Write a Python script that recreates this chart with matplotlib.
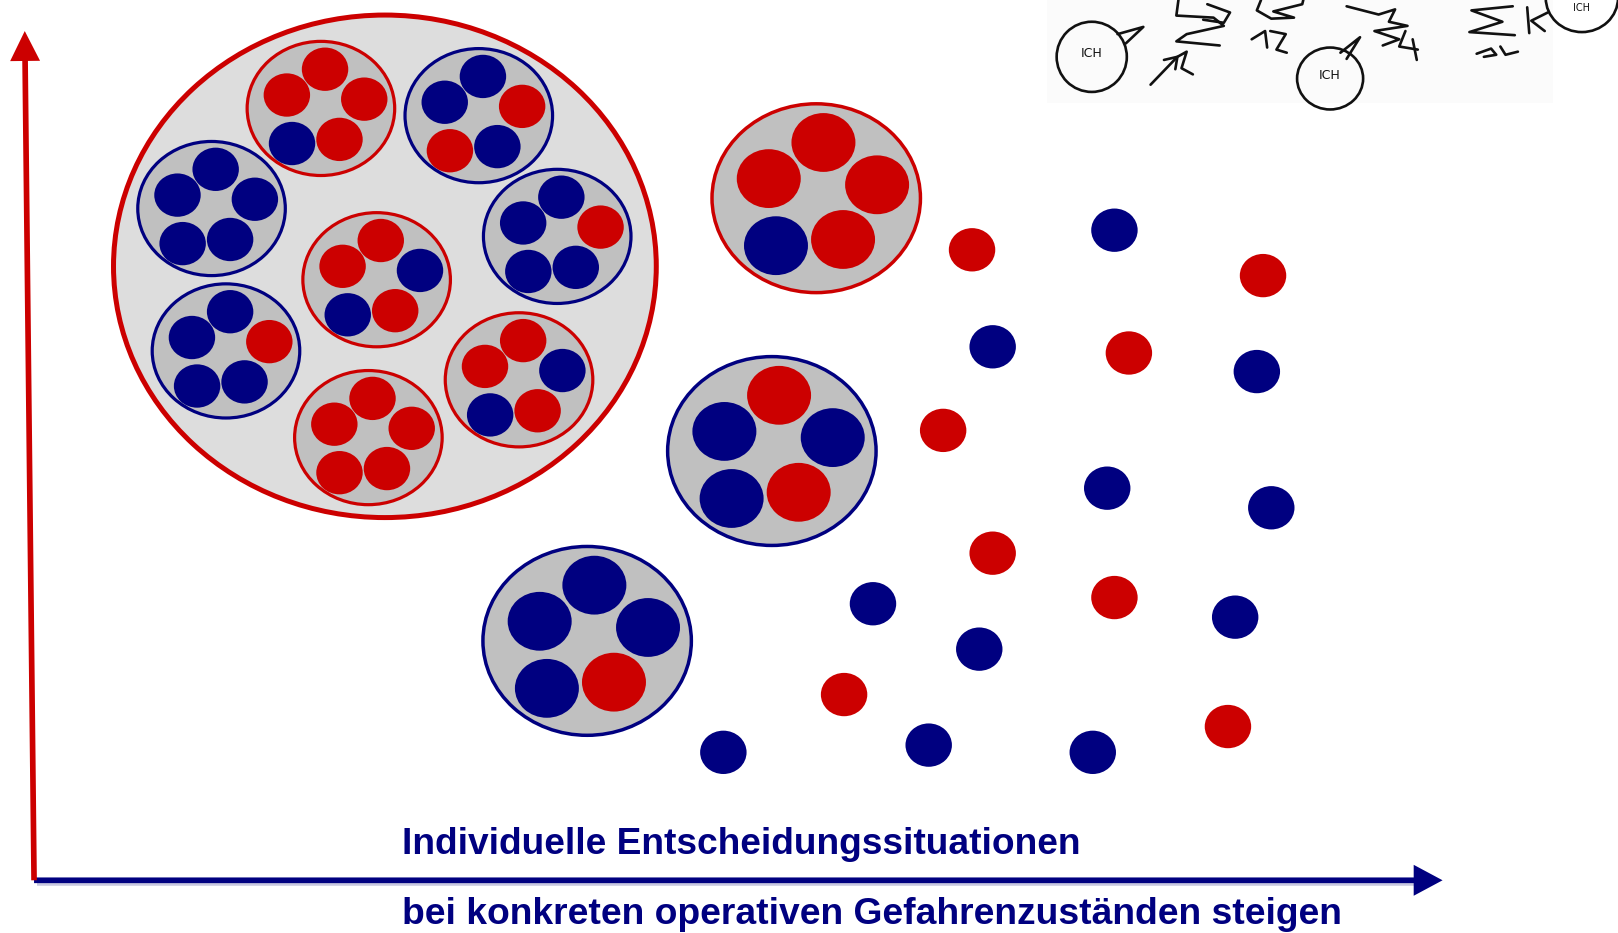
import matplotlib
matplotlib.use("Agg")
import matplotlib.pyplot as plt
from matplotlib.patches import Ellipse, FancyArrow, Rectangle
from matplotlib import font_manager

RED = "#CC0000"
BLUE = "#000080"
COL = {"R": RED, "B": BLUE}

# canvas units (picture coordinates, y grows downwards)
W, H = 1568, 904

# big circle
big_center = (373, 258)
big_size = (526, 487)

# clusters inside the big circle: centre, ring colour, dot colours (top, left, right, bottom-left, bottom-right)
inner_centers = [(311, 105), (464, 112), (205, 202), (365, 271),
                 (540, 229), (219, 340), (503, 368), (357, 424)]
inner_rings = ["R", "B", "B", "R", "B", "B", "R", "R"]
inner_dots = ["RRRBR", "BBRRB", "BBBBB", "RRBBR", "BBRBB", "BBRBB", "RRBBR", "RRRRR"]
inner_offsets = [(4, -38), (-33, -13), (42, -9), (-28, 34), (18, 30)]

# free clusters
outer_centers = [(791, 192), (748, 437), (569, 621)]
outer_rings = ["R", "B", "B"]
outer_dots = ["RRRBR", "RBBBR", "BBBBR"]
outer_offsets = [(7, -54), (-46, -19), (59, -13), (-39, 46), (26, 40)]

# single dots
red_dots = [(942, 242), (1224, 267), (1094, 342), (914, 417),
            (962, 536), (1080, 579), (818, 673), (1190, 704)]
blue_dots = [(1080, 223), (962, 336), (1218, 360), (1073, 473), (1232, 492),
             (846, 585), (949, 629), (900, 722), (1059, 729), (1197, 598), (701, 729)]

label_top = "Individuelle Entscheidungssituationen"
label_bottom = "bei konkreten operativen Gefahrenzuständen steigen"

# hand sketch at the top right
sketch_circles = [(1058, 55, 68, 68), (1289, 76, 64, 60), (1533, -2, 70, 66)]
sketch_texts = [(1058, 52, "ICH", 9), (1289, 73, "ICH", 9), (1533, 8, "ICH", 7)]
sketch_strokes = [
    [(1083, 33), (1108, 26), (1091, 42)],
    [(1299, 51), (1318, 36), (1305, 57)],
    [(1500, 12), (1484, 20), (1497, 30)],
    [(1115, 82), (1140, 56)],
    [(1128, 58), (1141, 55), (1139, 67)],
    [(1141, 55), (1150, 50), (1145, 66), (1156, 72)],
    [(1142, 0), (1140, 15), (1176, 17), (1186, 25), (1150, 33), (1140, 40), (1182, 44)],
    [(1170, 4), (1192, 12), (1186, 22), (1166, 19)],
    [(1222, 0), (1218, 10), (1232, 18), (1254, 17), (1234, 11), (1262, 4), (1263, 0)],
    [(1213, 38), (1226, 30), (1228, 46)],
    [(1231, 30), (1246, 33), (1237, 48), (1247, 51)],
    [(1305, 6), (1336, 14), (1352, 9), (1346, 21), (1364, 25), (1332, 30), (1356, 38), (1340, 44)],
    [(1362, 30), (1356, 45), (1374, 48)],
    [(1369, 38), (1373, 58)],
    [(1466, 6), (1426, 10), (1456, 21), (1424, 31), (1468, 34)],
    [(1480, 7), (1482, 32)],
    [(1431, 52), (1445, 47), (1450, 53), (1438, 55)],
    [(1454, 45), (1459, 53), (1471, 50)],
]

fig = plt.figure(figsize=(16.18, 9.33), dpi=100)
ax = fig.add_axes([0, 0, 1, 1])
ax.set_xlim(0, W)
ax.set_ylim(H, 0)
ax.set_aspect("equal")
ax.axis("off")

# faint background of the scanned sketch
ax.add_patch(Rectangle((1015, 0), 490, 100, facecolor="#FBFBFB", edgecolor="none", zorder=0))

ax.add_patch(Ellipse(big_center, *big_size, facecolor="#DDDDDD", edgecolor=RED, lw=3.6, zorder=1))


def draw_cluster(center, ring, dots, offsets, ring_size, dot_size, lw):
    ax.add_patch(Ellipse(center, *ring_size, facecolor="#C0C0C0", edgecolor=COL[ring], lw=lw, zorder=2))
    for (dx, dy), c in zip(offsets, dots):
        ax.add_patch(Ellipse((center[0] + dx, center[1] + dy), *dot_size,
                             facecolor=COL[c], edgecolor="none", zorder=3))


for c, r, d in zip(inner_centers, inner_rings, inner_dots):
    draw_cluster(c, r, d, inner_offsets, (143, 130), (45, 42), 2.3)
for c, r, d in zip(outer_centers, outer_rings, outer_dots):
    draw_cluster(c, r, d, outer_offsets, (202, 183), (62, 57), 2.5)

for p in red_dots:
    ax.add_patch(Ellipse(p, 45, 42, facecolor=RED, edgecolor="none", zorder=3))
for p in blue_dots:
    ax.add_patch(Ellipse(p, 45, 42, facecolor=BLUE, edgecolor="none", zorder=3))

# axes arrows
ax.plot([36, 1372], [856, 856], color="#C8C8E0", lw=4, solid_capstyle="butt", zorder=3)
ax.add_patch(FancyArrow(33, 853, 1365, 0, width=5.5, head_width=30, head_length=28,
                        length_includes_head=True, color=BLUE, lw=0, zorder=4))
ax.add_patch(FancyArrow(33, 853, -9, -823, width=5.5, head_width=29, head_length=29,
                        length_includes_head=True, color=RED, lw=0, zorder=4))

# sketch
for cx, cy, w, h in sketch_circles:
    ax.add_patch(Ellipse((cx, cy), w, h, facecolor="none", edgecolor="#111111", lw=1.9, zorder=2))
for x, y, s, fs in sketch_texts:
    ax.text(x, y, s, fontsize=fs, ha="center", va="center", color="#111111", zorder=2)
for stroke in sketch_strokes:
    xs, ys = zip(*stroke)
    ax.plot(xs, ys, color="#111111", lw=1.9, solid_capstyle="round", solid_joinstyle="round", zorder=2)

# labels, sized to the width they take in the picture
names = {f.name for f in font_manager.fontManager.ttflist}
family = "Liberation Sans Narrow" if "Liberation Sans Narrow" in names else "Liberation Sans"
renderer = fig.canvas.get_renderer()
for text, y, x_end in [(label_top, 828, 1049), (label_bottom, 895, 1300)]:
    t = ax.text(390, y, text, fontsize=28, fontweight="bold", family=family,
                color=BLUE, ha="left", va="baseline", zorder=5)
    target = ax.transData.transform((x_end, 0))[0] - ax.transData.transform((390, 0))[0]
    width = t.get_window_extent(renderer).width
    t.set_fontsize(28 * target / width)

fig.savefig("out.png", dpi=100)
